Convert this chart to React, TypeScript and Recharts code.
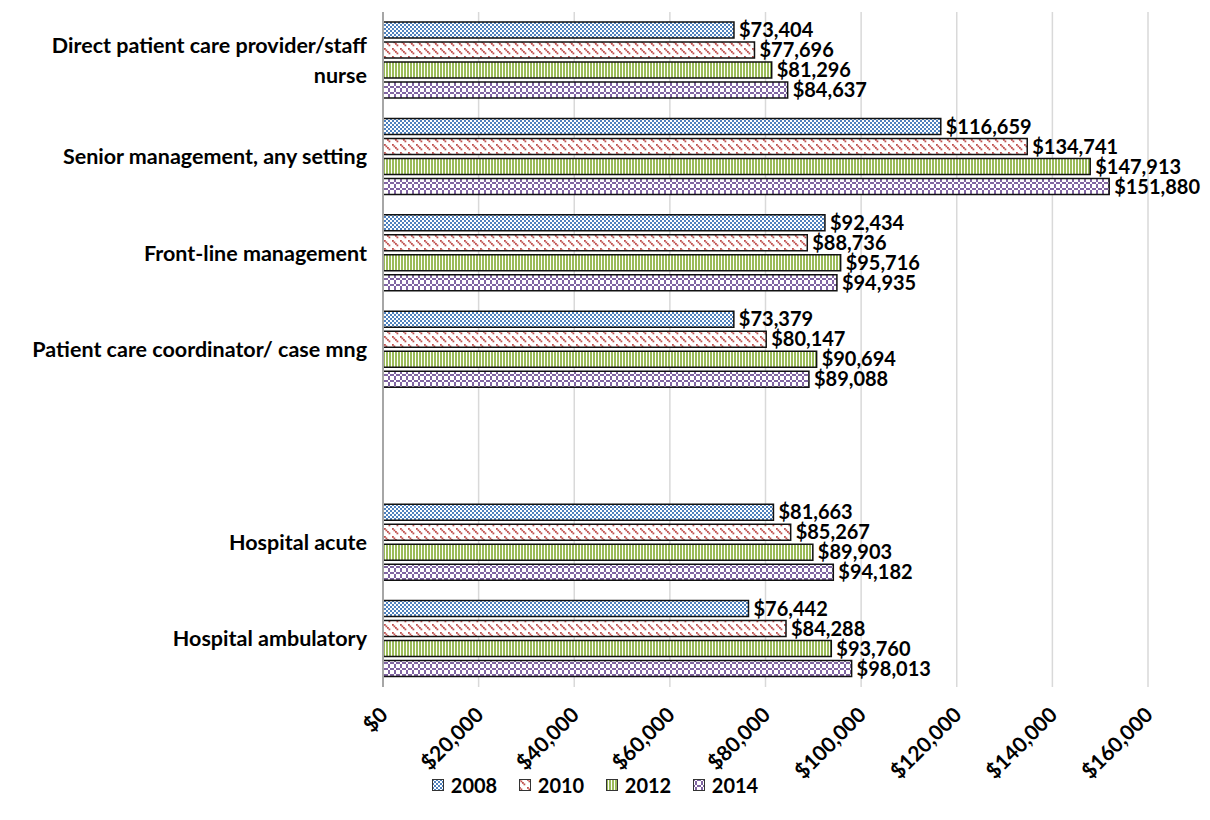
import React from 'react';
import { BarChart, Bar, XAxis, YAxis, CartesianGrid, LabelList, Legend } from 'recharts';

const categories = [
  'Direct patient care provider/staff\nnurse',
  'Senior management, any setting',
  'Front-line management',
  'Patient care coordinator/ case mng',
  '',
  'Hospital acute',
  'Hospital ambulatory',
];
const years = ['2008', '2010', '2012', '2014'];
const y2008 = [73404, 116659, 92434, 73379, null, 81663, 76442];
const y2010 = [77696, 134741, 88736, 80147, null, 85267, 84288];
const y2012 = [81296, 147913, 95716, 90694, null, 89903, 93760];
const y2014 = [84637, 151880, 94935, 89088, null, 94182, 98013];
const xTicks = [0, 20000, 40000, 60000, 80000, 100000, 120000, 140000, 160000];

const data = categories.map((name, i) => ({
  name,
  y2008: y2008[i],
  y2010: y2010[i],
  y2012: y2012[i],
  y2014: y2014[i],
}));

const FONT = 'Lato, "Open Sans", sans-serif';
const money = (v: any) => (v === null || v === undefined || v === '' ? '' : '$' + Number(v).toLocaleString('en-US'));

const Patterns = () => (
  <svg width={0} height={0} style={{ position: 'absolute' }}>
    <defs>
      <pattern id="p2008" width={4} height={4} patternUnits="userSpaceOnUse">
        <rect width={4} height={4} fill="#fff" />
        <rect x={0} y={0} width={2} height={2} fill="#4F81BD" />
        <rect x={2} y={2} width={2} height={2} fill="#4F81BD" />
      </pattern>
      <pattern id="p2010" width={8} height={8} patternUnits="userSpaceOnUse">
        <rect width={8} height={8} fill="#fff" />
        <rect x={0} y={0} width={1.8} height={1.8} fill="#C0504D" />
        <rect x={1.5} y={1.5} width={1.8} height={1.8} fill="#C0504D" />
        <rect x={3} y={3} width={1.8} height={1.8} fill="#C0504D" />
        <rect x={4.5} y={4.5} width={1.8} height={1.8} fill="#C0504D" />
      </pattern>
      <pattern id="p2012" width={3} height={3} patternUnits="userSpaceOnUse">
        <rect width={3} height={3} fill="#fff" />
        <rect x={0} y={0} width={2} height={3} fill="#9BBB59" />
      </pattern>
      <pattern id="p2014" width={6} height={6} patternUnits="userSpaceOnUse">
        <rect width={6} height={6} fill="#fff" />
        <rect x={0} y={0} width={2} height={2} fill="#8064A2" />
        <rect x={2} y={2} width={2} height={2} fill="#8064A2" />
        <rect x={4} y={0} width={2} height={2} fill="#8064A2" />
        <rect x={2} y={4} width={2} height={2} fill="#8064A2" />
      </pattern>
    </defs>
  </svg>
);

const YTick = ({ x, y, payload }: any) => {
  const lines = String(payload.value).split('\n');
  const step = 30;
  const start = -((lines.length - 1) * step) / 2;
  return (
    <text x={x} y={y} textAnchor="end" fontFamily={FONT} fontWeight={700} fontSize={21.5} fill="#000">
      {lines.map((l, i) => (
        <tspan key={i} x={x} y={y + start + i * step} dy="0.35em">{l}</tspan>
      ))}
    </text>
  );
};

const XTick = ({ x, y, payload }: any) => (
  <text
    x={x + 1}
    y={y + 16}
    dy="0.35em"
    textAnchor="end"
    transform={`rotate(-45, ${x + 1}, ${y + 16})`}
    fontFamily={FONT}
    fontWeight={700}
    fontSize={21}
    fill="#000"
  >
    {money(payload.value)}
  </text>
);

const LegendBox = () => (
  <div style={{ display: 'flex', justifyContent: 'center', height: 22, alignItems: 'center', fontFamily: FONT, fontWeight: 700, fontSize: 20 }}>
    {years.map((yr, i) => (
      <div key={yr} style={{ display: 'flex', alignItems: 'center', width: i < years.length - 1 ? 87 : 'auto' }}>
        <svg width={12} height={12} style={{ marginRight: 7 }}>
          <rect x={0.5} y={0.5} width={11} height={11} fill={`url(#p${yr})`} stroke="#333" strokeWidth={1} />
        </svg>
        <span>{yr}</span>
      </div>
    ))}
  </div>
);

export default function App() {
  return (
    <div>
      <Patterns />
      <BarChart
        width={1195}
        height={800}
        data={data}
        layout="vertical"
        margin={{ top: 4, right: 55, left: 0, bottom: 12 }}
        barSize={16}
        barGap={4}
      >
        <CartesianGrid horizontal={false} stroke="#D9D9D9" strokeWidth={1.5} />
        <XAxis
          type="number"
          domain={[0, 160000]}
          ticks={xTicks}
          interval={0}
          axisLine={false}
          tickLine={false}
          tick={<XTick />}
          height={87}
        />
        <YAxis
          type="category"
          dataKey="name"
          width={375}
          interval={0}
          axisLine={{ stroke: '#A6A6A6', strokeWidth: 2 }}
          tickLine={false}
          tick={<YTick />}
          tickMargin={10}
        />
        <Legend verticalAlign="bottom" wrapperStyle={{ left: 0, width: 1174 }} content={<LegendBox />} />
        {years.map((yr) => (
          <Bar key={yr} dataKey={`y${yr}`} name={yr} fill={`url(#p${yr})`} stroke="#111" strokeWidth={1.5} isAnimationActive={false}>
            <LabelList
              dataKey={`y${yr}`}
              position="right"
              offset={5}
              formatter={money}
              style={{ fontFamily: FONT, fontWeight: 700, fontSize: 20, fill: '#000' }}
            />
          </Bar>
        ))}
      </BarChart>
    </div>
  );
}
